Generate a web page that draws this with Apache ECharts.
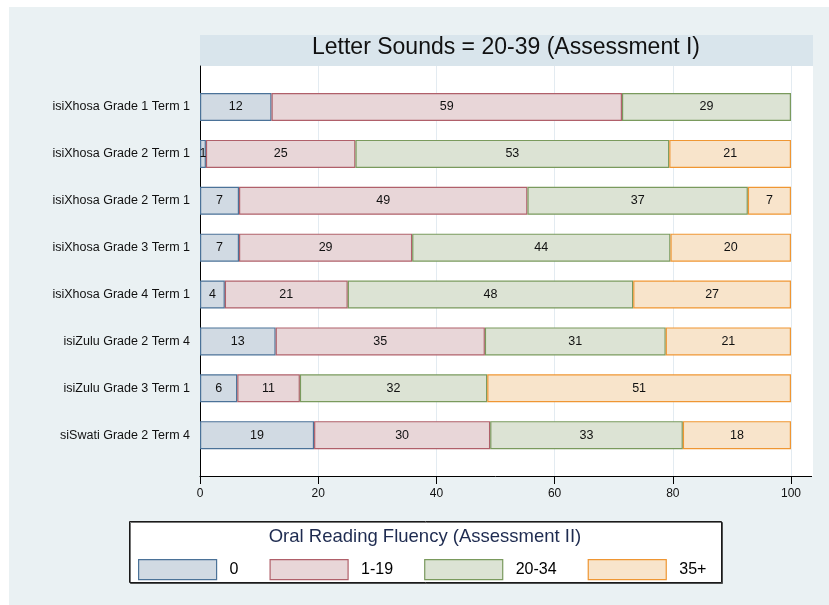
<!DOCTYPE html>
<html>
<head>
<meta charset="utf-8">
<script src="https://cdn.jsdelivr.net/npm/echarts@6/dist/echarts.min.js"></script>
<style>
html,body{margin:0;padding:0;background:#ffffff;}
#chart{width:829px;height:605px;}
</style>
</head>
<body>
<div id="chart"></div>
<script>
const categories = [
  'isiXhosa Grade 1 Term 1',
  'isiXhosa Grade 2 Term 1',
  'isiXhosa Grade 2 Term 1',
  'isiXhosa Grade 3 Term 1',
  'isiXhosa Grade 4 Term 1',
  'isiZulu Grade 2 Term 4',
  'isiZulu Grade 3 Term 1',
  'siSwati Grade 2 Term 4'
];
const seriesNames = ['0', '1-19', '20-34', '35+'];
const vZero   = [12.1, 1.0, 6.6, 6.6, 4.2, 12.8, 6.3, 19.3];
const v1to19  = [59.3, 25.3, 48.8, 29.3, 20.8, 35.4, 10.6, 29.8];
const v20to34 = [28.6, 53.1, 37.3, 43.7, 48.3, 30.6, 31.7, 32.6];
const v35plus = [null, 20.6, 7.3, 20.4, 26.7, 21.2, 51.4, 18.3];
const xTicks = [0, 20, 40, 60, 80, 100];
const titleText = 'Letter Sounds = 20-39 (Assessment I)';
const legendTitle = 'Oral Reading Fluency (Assessment II)';

const FONT = "'Liberation Sans', Arial, Helvetica, sans-serif";
const fills = ['#d1dae3', '#e8d6d8', '#dce3d4', '#f8e4cb'];
const borders = ['#4b7298', '#b0606a', '#7a9a5d', '#ef9633'];
const values = [vZero, v1to19, v20to34, v35plus];

const chart = echarts.init(document.getElementById('chart'), null, {renderer: 'canvas'});

const barSeries = seriesNames.map((name, i) => ({
  name: name,
  type: 'bar',
  stack: 'total',
  xAxisIndex: 1,
  yAxisIndex: 1,
  barWidth: 28,
  data: values[i],
  itemStyle: {color: fills[i], borderColor: borders[i], borderWidth: 1.2},
  emphasis: {disabled: true},
  label: {
    show: true,
    position: 'inside',
    fontFamily: FONT,
    fontSize: 12.5,
    color: '#111',
    formatter: p => (p.value == null ? '' : String(Math.round(p.value)))
  }
}));

const option = {
  animation: false,
  backgroundColor: '#ffffff',
  graphic: [
    {type: 'rect', z: -10, shape: {x: 9, y: 7, width: 820, height: 598}, style: {fill: '#eaf1f3'}, silent: true},
    {type: 'rect', z: -9, shape: {x: 200, y: 35, width: 613, height: 31}, style: {fill: '#d9e5ec'}, silent: true},
    {type: 'text', z: -8, x: 506, y: 48, style: {text: titleText, font: '23px ' + FONT, fill: '#111', align: 'center', verticalAlign: 'middle'}, silent: true},
    {type: 'rect', z: -9, shape: {x: 200, y: 66, width: 613, height: 410}, style: {fill: '#ffffff'}, silent: true},
    {type: 'line', z: 5, shape: {x1: 790, y1: 476.5, x2: 812, y2: 476.5}, style: {stroke: '#000', lineWidth: 1}, silent: true},
    {type: 'rect', z: -5, shape: {x: 129.5, y: 521.5, width: 592, height: 61}, style: {fill: '#ffffff', stroke: '#1a1a1a', lineWidth: 1, shadowColor: 'rgba(0,0,0,0.55)', shadowOffsetX: 1, shadowOffsetY: 1, shadowBlur: 0}, silent: true},
    {type: 'text', z: 5, x: 425, y: 537, style: {text: legendTitle, font: '18.5px ' + FONT, fill: '#1e2b50', align: 'center', verticalAlign: 'middle'}, silent: true}
  ],
  grid: [
    {left: 200, top: 66, width: 591, height: 410, outerBoundsMode: 'none'},
    {left: 200, top: 83.6, width: 591, height: 375, outerBoundsMode: 'none'}
  ],
  legend: {
    show: true,
    left: 133,
    top: 554,
    orient: 'horizontal',
    itemWidth: 78,
    itemHeight: 20,
    itemGap: 31,
    selectedMode: false,
    icon: 'rect',
    textStyle: {fontFamily: FONT, fontSize: 16, color: '#000', padding: [0, 0, 0, 8]},
    data: seriesNames.map((n, i) => ({name: n, icon: 'rect', itemStyle: {color: fills[i], borderColor: borders[i], borderWidth: 1.2}}))
  },
  xAxis: [
    {
      type: 'value', gridIndex: 0, min: 0, max: 100, interval: 20,
      axisLine: {show: true, lineStyle: {color: '#000', width: 1}},
      axisTick: {show: true, length: 8, lineStyle: {color: '#000', width: 1}},
      axisLabel: {show: true, margin: 12, fontFamily: FONT, fontSize: 12, color: '#111',
        formatter: v => (xTicks.indexOf(v) >= 0 ? String(v) : '')},
      splitLine: {show: true, lineStyle: {color: '#e3ebf1', width: 1}}
    },
    {
      type: 'value', gridIndex: 1, min: 0, max: 100, show: false,
      splitLine: {show: false}
    }
  ],
  yAxis: [
    {
      type: 'value', gridIndex: 0, min: 0, max: 1,
      axisLine: {show: true, onZero: false, lineStyle: {color: '#000', width: 1}},
      axisTick: {show: false}, axisLabel: {show: false}, splitLine: {show: false}
    },
    {
      type: 'category', gridIndex: 1, data: categories, inverse: true,
      axisLine: {show: false}, axisTick: {show: false},
      axisLabel: {show: true, margin: 10, fontFamily: FONT, fontSize: 12.5, color: '#111'},
      splitLine: {show: false}
    }
  ],
  series: barSeries
};
chart.setOption(option);
</script>
</body>
</html>
